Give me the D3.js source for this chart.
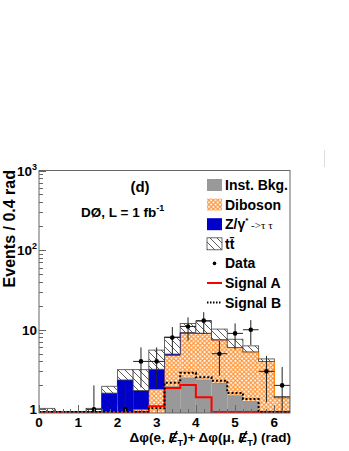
<!DOCTYPE html>
<html>
<head>
<meta charset="utf-8">
<script src="https://cdn.jsdelivr.net/npm/d3@7"></script>
<style>
  body { margin: 0; background: #fff; }
  svg { display: block; }
  text { font-family: "Liberation Sans", Arial, Helvetica, sans-serif; font-weight: bold; fill: #000; }
</style>
</head>
<body>
<script>
// bin centres (rad), every bin is 0.4 rad wide
const binCenters = [0.2, 0.6, 1.0, 1.4, 1.8, 2.2, 2.6, 3.0, 3.4, 3.8, 4.2, 4.6, 5.0, 5.4, 5.8, 6.2];
const binWidth = 0.4;

// backgrounds, contribution of each process per bin (stacked in this order)
const instBkg = [0, 0, 0, 0, 0, 0, 0, 0.85, 1.95, 2.5, 2.35, 2.15, 1.5, 1.27, 0, 0];
const diboson = [0, 0, 0, 0, 0, 0, 1.0, 0.94, 2.8, 6.5, 6.65, 5.3, 4.5, 4.0, 4.0, 1.4];
const zTauTau = [0, 0, 0, 0, 1.6, 2.34, 0.72, 1.4, 0.2, 0.2, 0.05, 0.04, 0, 0, 0, 0];
const ttbar   = [1.03, 0, 0, 1.03, 0.35, 0.81, 1.43, 2.36, 3.15, 2.8, 3.75, 2.7, 1.6, 1.0, 0.3, 0.05];

// signals
const signalA = [0, 0, 0, 0, 0, 0, 0, 1.06, 1.8, 1.97, 1.38, 0, 0, 0, 0, 0];
const signalB = [0, 0, 0, 0, 0, 0, 0, 1.0, 2.1, 2.8, 2.46, 2.23, 1.56, 1.31, 0, 0];

// data
const dataCounts = [0, 0, 0, 1, 0, 1, 4, 4, 8, 11, 13, 5, 9, 10, 3, 2];
const dataErr    = [0, 0, 0, 1, 0, 1, 2, 2, 2.8, 3.3, 3.6, 2.2, 3, 3.2, 1.7, 1.4];

const xTicks = [0, 1, 2, 3, 4, 5, 6];
const yTicks = [1, 10, 100, 1000];
const yTickLabels = [['1', ''], ['10', ''], ['10', '2'], ['10', '3']];

const W = 349, H = 451;
const yMin = 0.9;

const svg = d3.select('body').append('svg')
    .attr('width', W)
    .attr('height', H);

const x = d3.scaleLinear().domain([0, 6.4]).range([39, 290]);
const y = d3.scaleLog().domain([yMin, 1000]).range([413, 170.5]);
const yc = v => y(Math.max(v, yMin));

const defs = svg.append('defs');
defs.append('clipPath').attr('id', 'plotClip')
  .append('rect').attr('x', 39).attr('y', 170.5).attr('width', 251).attr('height', 242.5);

// orange cross hatch for diboson
const cross = defs.append('pattern').attr('id', 'cross')
    .attr('patternUnits', 'userSpaceOnUse')
    .attr('width', 4.4).attr('height', 4.4);
cross.append('rect').attr('width', 4.4).attr('height', 4.4).attr('fill', '#fff');
cross.append('path').attr('d', 'M0,0 L4.4,4.4 M4.4,0 L0,4.4')
    .attr('stroke', '#ff9333').attr('stroke-width', 1.1);

// diagonal hatch for ttbar
const hatch = defs.append('pattern').attr('id', 'hatch')
    .attr('patternUnits', 'userSpaceOnUse')
    .attr('width', 7).attr('height', 7);
hatch.append('rect').attr('width', 7).attr('height', 7).attr('fill', '#fff');
hatch.append('path').attr('d', 'M-1,-1 L8,8 M-1,6 L1,8 M6,-1 L8,1')
    .attr('stroke', '#333').attr('stroke-width', 0.8);

const plot = svg.append('g').attr('clip-path', 'url(#plotClip)');

// stack the backgrounds
const rows = binCenters.map((c, i) => ({
  c, inst: instBkg[i], dib: diboson[i], ztt: zTauTau[i], tt: ttbar[i]
}));
const stacked = d3.stack().keys(['inst', 'dib', 'ztt', 'tt'])(rows);

const layerStyle = {
  inst: {fill: '#999999', line: '#888888'},
  dib:  {fill: 'url(#cross)', line: '#ff8000'},
  ztt:  {fill: '#0000cc', line: '#0000cc'},
  tt:   {fill: 'url(#hatch)', line: '#444444'}
};

// step outline over the bins where a layer is non zero
const stepLine = d3.line().curve(d3.curveStepAfter);
function layerOutline(layer) {
  const segs = [];
  let cur = null;
  layer.forEach(d => {
    if (d[1] > d[0]) {
      if (!cur) { cur = []; segs.push(cur); cur.push([x(d.data.c - binWidth / 2), yc(d[0])]); }
      cur.push([x(d.data.c - binWidth / 2), yc(d[1])]);
      cur.last = d;
    } else {
      cur = null;
    }
  });
  segs.forEach(s => {
    const d = s.last;
    s.push([x(d.data.c + binWidth / 2), yc(d[1])]);
    s.push([x(d.data.c + binWidth / 2), yc(d[0])]);
  });
  return segs;
}

stacked.forEach(layer => {
  const st = layerStyle[layer.key];
  plot.append('g').selectAll('rect')
    .data(layer.filter(d => d[1] > d[0] && d[1] > yMin))
    .enter().append('rect')
      .attr('x', d => x(d.data.c - binWidth / 2))
      .attr('width', d => x(d.data.c + binWidth / 2) - x(d.data.c - binWidth / 2))
      .attr('y', d => yc(d[1]))
      .attr('height', d => yc(d[0]) - yc(d[1]))
      .attr('fill', st.fill)
      .attr('stroke', layer.key === 'tt' ? st.line : 'none')
      .attr('stroke-width', 0.8);
  if (layer.key !== 'tt') {
    layerOutline(layer).forEach(seg => {
      plot.append('path').attr('d', stepLine(seg))
        .attr('fill', 'none').attr('stroke', st.line)
        .attr('stroke-width', layer.key === 'dib' ? 1.2 : 1);
    });
  }
});

// signal histograms across the whole range
function signalPath(vals) {
  const pts = vals.map((v, i) => [x(binCenters[i] - binWidth / 2), yc(v) - 1]);
  pts.push([x(binCenters[binCenters.length - 1] + binWidth / 2), yc(vals[vals.length - 1]) - 1]);
  return stepLine(pts);
}
plot.append('path').attr('d', signalPath(signalA))
  .attr('fill', 'none').attr('stroke', '#ff0000').attr('stroke-width', 2);
plot.append('path').attr('d', signalPath(signalB))
  .attr('fill', 'none').attr('stroke', '#000').attr('stroke-width', 2)
  .attr('stroke-dasharray', '2,2');

// data with error bars
const dataPts = binCenters.map((c, i) => ({c, n: dataCounts[i], e: dataErr[i]})).filter(d => d.n > 0);
const dg = plot.append('g');
dg.selectAll('.ev').data(dataPts).enter().append('line')
  .attr('x1', d => x(d.c)).attr('x2', d => x(d.c))
  .attr('y1', d => yc(d.n - d.e) + 2).attr('y2', d => yc(d.n + d.e))
  .attr('stroke', '#222').attr('stroke-width', 1);
dg.selectAll('.eh').data(dataPts).enter().append('line')
  .attr('x1', d => x(d.c - binWidth / 2)).attr('x2', d => x(d.c + binWidth / 2))
  .attr('y1', d => y(d.n)).attr('y2', d => y(d.n))
  .attr('stroke', '#222').attr('stroke-width', 1);
dg.selectAll('circle').data(dataPts).enter().append('circle')
  .attr('cx', d => x(d.c)).attr('cy', d => y(d.n)).attr('r', 2.3).attr('fill', '#000');

// frame and axes
const frameCol = '#666';
svg.append('rect').attr('x', 39).attr('y', 170.5).attr('width', 251).attr('height', 242.5)
  .attr('fill', 'none').attr('stroke', frameCol).attr('stroke-width', 1);

// y ticks (inside), log minors
const yMinor = [];
[1, 10, 100].forEach(dec => { for (let m = 2; m <= 9; m++) yMinor.push(dec * m); });
svg.append('g').selectAll('line').data(yMinor).enter().append('line')
  .attr('x1', 39).attr('x2', 43).attr('y1', d => Math.round(y(d)) + 0.5).attr('y2', d => Math.round(y(d)) + 0.5)
  .attr('stroke', frameCol);
svg.append('g').selectAll('line').data(yTicks).enter().append('line')
  .attr('x1', 39).attr('x2', 46).attr('y1', d => Math.round(y(d)) + 0.5).attr('y2', d => Math.round(y(d)) + 0.5)
  .attr('stroke', frameCol);
const yl = svg.append('g').selectAll('text').data(yTicks).enter().append('text')
  .attr('x', 37).attr('y', d => y(d) + 5)
  .attr('text-anchor', 'end').attr('font-size', 13.5);
yl.append('tspan').text((d, i) => yTickLabels[i][0]);
yl.append('tspan').attr('dy', -6).attr('font-size', 9).text((d, i) => yTickLabels[i][1]);

// x ticks (inside)
const xMinor = d3.range(0.2, 6.4, 0.2);
svg.append('g').selectAll('line').data(xMinor).enter().append('line')
  .attr('x1', d => Math.round(x(d)) + 0.5).attr('x2', d => Math.round(x(d)) + 0.5)
  .attr('y1', 413).attr('y2', 409)
  .attr('stroke', frameCol);
svg.append('g').selectAll('line').data(xTicks).enter().append('line')
  .attr('x1', d => Math.round(x(d)) + 0.5).attr('x2', d => Math.round(x(d)) + 0.5)
  .attr('y1', 413).attr('y2', 405)
  .attr('stroke', frameCol);
svg.append('g').selectAll('text').data(xTicks).enter().append('text')
  .attr('x', d => x(d)).attr('y', 427)
  .attr('text-anchor', 'middle').attr('font-size', 13.5)
  .text(d => d);

// axis titles; the missing-ET E gets a slash drawn over it afterwards
const fsX = 13.5;
const xt = svg.append('text').attr('x', 291).attr('y', 442)
  .attr('text-anchor', 'end').attr('font-size', fsX);
const metE = [];
function metPart(t) {
  metE.push(t.append('tspan').attr('font-style', 'italic').text('E'));
  t.append('tspan').attr('dy', 4).attr('font-size', 9).text('T');
}
xt.append('tspan').text('\u0394\u03c6(e, ');
metPart(xt);
xt.append('tspan').attr('dy', -4).text(')+ \u0394\u03c6(\u03bc, ');
metPart(xt);
xt.append('tspan').attr('dy', -4).text(') (rad)');
metE.forEach(e => {
  const b = e.node().getBBox();
  const cx = b.x + b.width / 2;
  svg.append('line')
    .attr('x1', cx - 2.5).attr('y1', 442 + 1)
    .attr('x2', cx + 3.5).attr('y2', 442 - 11)
    .attr('stroke', '#000').attr('stroke-width', 1.6);
});

svg.append('text')
  .attr('transform', 'translate(15,170) rotate(-90)')
  .attr('text-anchor', 'end').attr('font-size', 16)
  .text('Events / 0.4 rad');

// labels inside the frame
svg.append('text').attr('x', 140).attr('y', 192).attr('text-anchor', 'middle')
  .attr('font-size', 15).text('(d)');
const lum = svg.append('text').attr('x', 81).attr('y', 217).attr('font-size', 13.5);
lum.append('tspan').text('D\u00d8, L = 1 fb');
lum.append('tspan').attr('dy', -6).attr('font-size', 9).text('-1');

// legend
const legendItems = [
  {label: 'Inst. Bkg.', kind: 'box', fill: '#999999'},
  {label: 'Diboson', kind: 'box', fill: 'url(#cross)'},
  {label: 'Z/\u03b3', kind: 'ztt', fill: '#0000cc'},
  {label: 'tt', kind: 'tt', fill: 'url(#hatch)'},
  {label: 'Data', kind: 'dot'},
  {label: 'Signal A', kind: 'lineA'},
  {label: 'Signal B', kind: 'lineB'}
];
const lg = svg.append('g');
legendItems.forEach((it, i) => {
  const cy = 185 + i * 19.6;
  if (it.kind === 'box' || it.kind === 'ztt' || it.kind === 'tt') {
    lg.append('rect').attr('x', 207).attr('y', cy - 6).attr('width', 15).attr('height', 12)
      .attr('fill', it.fill)
      .attr('stroke', it.kind === 'tt' ? '#444' : 'none').attr('stroke-width', 0.8);
  } else if (it.kind === 'dot') {
    lg.append('circle').attr('cx', 214.5).attr('cy', cy).attr('r', 1.8).attr('fill', '#000');
  } else if (it.kind === 'lineA') {
    lg.append('line').attr('x1', 207).attr('x2', 222).attr('y1', cy).attr('y2', cy)
      .attr('stroke', '#ff0000').attr('stroke-width', 2);
  } else {
    lg.append('line').attr('x1', 207).attr('x2', 222).attr('y1', cy).attr('y2', cy)
      .attr('stroke', '#000').attr('stroke-width', 2).attr('stroke-dasharray', '1.5,1.5');
  }
  const t = lg.append('text').attr('x', 225).attr('y', cy + 5).attr('font-size', 14);
  if (it.kind === 'ztt') {
    t.append('tspan').text(it.label);
    t.append('tspan').attr('dy', -6).attr('font-size', 8).text('*');
    t.append('tspan').attr('dy', 6).attr('font-size', 11).attr('font-weight', 'normal')
      .attr('font-family', '"Liberation Serif", serif').text(' ->\u03c4 \u03c4');
  } else if (it.kind === 'tt') {
    t.text('tt\u0304');
  } else {
    t.text(it.label);
  }
});

// faint stray mark at top right of the page
svg.append('line').attr('x1', 324.5).attr('x2', 324.5).attr('y1', 150).attr('y2', 167)
  .attr('stroke', '#ddd');
</script>
</body>
</html>
